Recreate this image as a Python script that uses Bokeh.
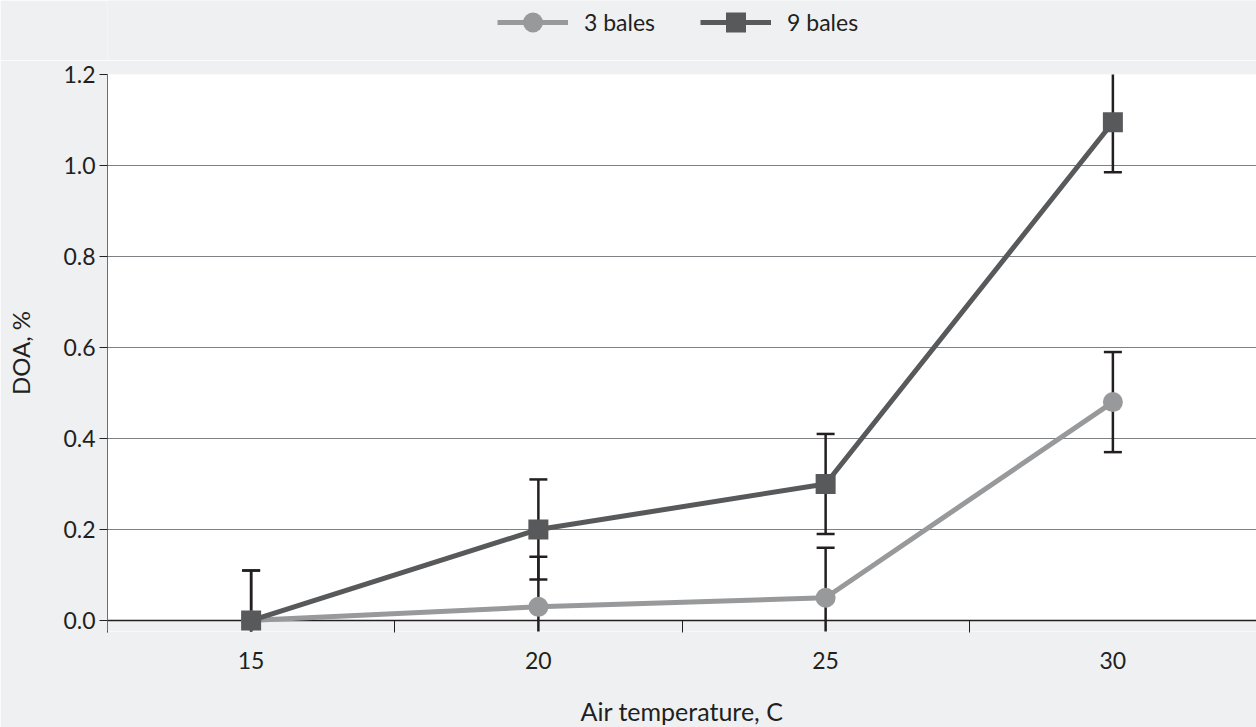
from bokeh.plotting import figure
from bokeh.layouts import column
from bokeh.models import (FixedTicker, Legend, LegendItem, ColumnDataSource,
                          Range1d, PrintfTickFormatter, BoxAnnotation, Span)
from bokeh.embed import file_html
from bokeh.resources import INLINE

# ---- data ----
temps = [15, 20, 25, 30]
temp_labels = ["15", "20", "25", "30"]
doa_3_bales = [0.0, 0.03, 0.05, 0.48]
doa_9_bales = [0.0, 0.20, 0.30, 1.095]
err_3_bales = [0.11, 0.11, 0.11, 0.11]
err_9_bales = [0.11, 0.11, 0.11, 0.11]
y_ticks = [0.0, 0.2, 0.4, 0.6, 0.8, 1.0, 1.2]
series_names = ["3 bales", "9 bales"]

C3 = "#98999b"
C9 = "#58595b"
INK = "#231f20"
BG = "#eff0f2"
FONT = "Lato"

src3 = ColumnDataSource(dict(x=temps, y=doa_3_bales,
                             lo=[v - e for v, e in zip(doa_3_bales, err_3_bales)],
                             hi=[v + e for v, e in zip(doa_3_bales, err_3_bales)]))
src9 = ColumnDataSource(dict(x=temps, y=doa_9_bales,
                             lo=[v - e for v, e in zip(doa_9_bales, err_9_bales)],
                             hi=[v + e for v, e in zip(doa_9_bales, err_9_bales)]))

# ---- main plot (frame extends 11 px below zero so markers at 0 are not cut) ----
p = figure(frame_width=1149, frame_height=557,
           x_range=Range1d(12.5, 32.5), y_range=Range1d(-0.0242, 1.2),
           output_backend="svg", toolbar_location=None,
           background_fill_color="white", border_fill_color=BG,
           min_border_left=107, min_border_right=0, min_border_top=14,
           min_border_bottom=96, outline_line_color=None)

p.add_layout(BoxAnnotation(top=0, fill_color=BG, fill_alpha=1, line_color=None,
                           level="underlay"))

p.xaxis.ticker = FixedTicker(ticks=temps, minor_ticks=[t - 2.5 for t in temps])
p.xaxis.major_label_overrides = {t: l for t, l in zip(temps, temp_labels)}
p.xaxis.major_tick_out = 0
p.xaxis.major_tick_in = 0
p.xaxis.minor_tick_out = 1
p.xaxis.minor_tick_in = 11
p.xaxis.minor_tick_line_color = INK
p.xaxis.minor_tick_line_width = 1
p.xaxis.axis_line_color = None
p.xaxis.major_label_standoff = 19
p.xaxis.axis_label = "Air temperature, C"
p.xaxis.axis_label_standoff = 24

p.yaxis.ticker = FixedTicker(ticks=y_ticks)
p.yaxis.formatter = PrintfTickFormatter(format="%.1f")
p.yaxis.major_tick_out = 8
p.yaxis.major_tick_in = 0
p.yaxis.minor_tick_line_color = None
p.yaxis.major_tick_line_color = INK
p.yaxis.axis_line_color = "#6d6e71"
p.yaxis.major_label_standoff = 4
p.yaxis.axis_label = "DOA, %"
p.yaxis.axis_label_standoff = 25

for ax in (p.xaxis[0], p.yaxis[0]):
    ax.major_label_text_font = FONT
    ax.major_label_text_font_size = "23px"
    ax.major_label_text_color = INK
    ax.axis_label_text_font = FONT
    ax.axis_label_text_font_size = "24px"
    ax.axis_label_text_color = INK
    ax.axis_label_text_font_style = "normal"
p.xaxis.axis_label_text_font_size = "25px"

p.xgrid.visible = False
p.ygrid.grid_line_color = "#7f8083"
p.ygrid.grid_line_width = 1

p.add_layout(Span(location=0, dimension="width", line_color=INK, line_width=1.5,
                  level="underlay"))

l3 = p.line("x", "y", source=src3, line_color=C3, line_width=5)
l9 = p.line("x", "y", source=src9, line_color=C9, line_width=5)

for src in (src3, src9):
    p.segment(x0="x", y0="lo", x1="x", y1="hi", source=src, line_color=INK, line_width=2.5)
    p.scatter("x", "hi", source=src, marker="dash", size=18, line_color=INK, line_width=2.5)
    p.scatter("x", "lo", source=src, marker="dash", size=18, line_color=INK, line_width=2.5)

s3 = p.scatter("x", "y", source=src3, marker="circle", size=20, fill_color=C3, line_color=None)
s9 = p.scatter("x", "y", source=src9, marker="square", size=20, fill_color=C9, line_color=None)

# ---- legend strip on top (its renderers lie outside its range, only the legend shows) ----
pl = figure(width=1256, height=60, output_backend="svg", toolbar_location=None,
            x_axis_type=None, y_axis_type=None, min_border=0,
            background_fill_color=BG, border_fill_color=BG, outline_line_color=None,
            x_range=Range1d(0, 1), y_range=Range1d(0, 1))
pl.grid.visible = False
ll3 = pl.line("x", "y", source=src3, line_color=C3, line_width=5)
ls3 = pl.scatter("x", "y", source=src3, marker="circle", size=20, fill_color=C3, line_color=None)
ll9 = pl.line("x", "y", source=src9, line_color=C9, line_width=5)
ls9 = pl.scatter("x", "y", source=src9, marker="square", size=20, fill_color=C9, line_color=None)

legend = Legend(items=[LegendItem(label=series_names[0], renderers=[ll3, ls3]),
                       LegendItem(label=series_names[1], renderers=[ll9, ls9])],
                orientation="horizontal", location=(390, 13),
                glyph_width=71, glyph_height=50, label_standoff=16, spacing=45,
                padding=0, margin=0,
                label_text_font=FONT, label_text_font_size="23px",
                label_text_color=INK, background_fill_alpha=0,
                border_line_color=None)
pl.add_layout(legend)

layout = column(pl, p, spacing=0)
open("out.html", "w").write(file_html(layout, INLINE))
